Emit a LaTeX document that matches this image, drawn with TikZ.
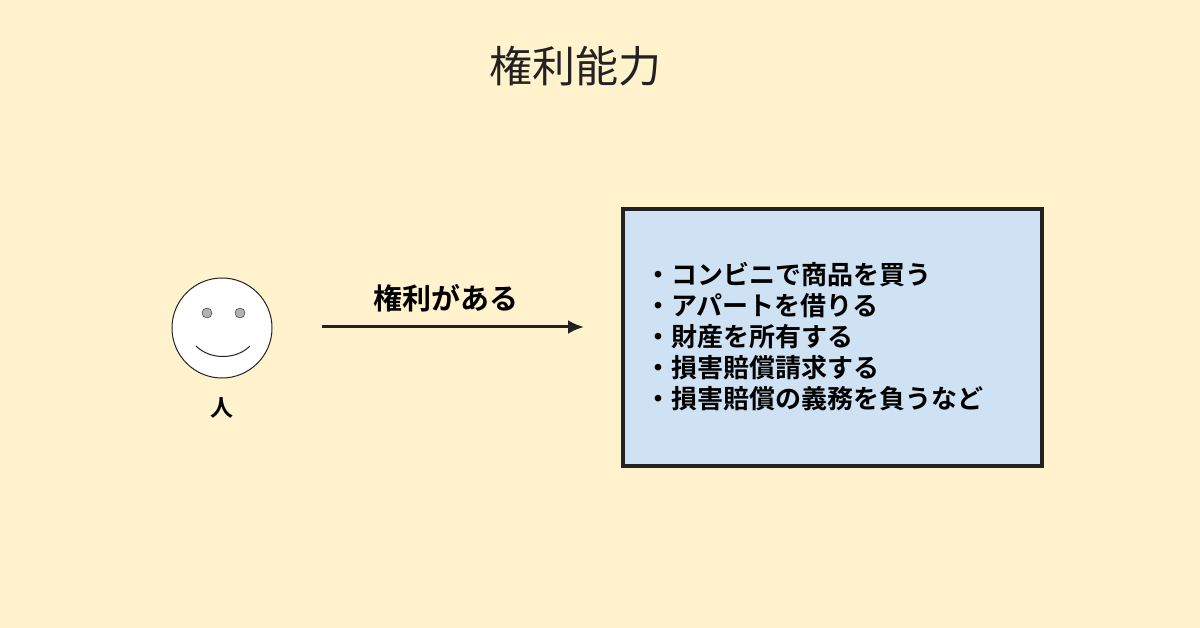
\documentclass[tikz,border=0pt]{standalone}
\usepackage{fontspec}
\usetikzlibrary{arrows.meta}
\newfontfamily\jp{Noto Sans CJK JP}
\newfontfamily\jpb{Noto Sans CJK JP Bold}
\definecolor{bg}{HTML}{FFF2CC}
\definecolor{bx}{HTML}{CFE2F3}
\definecolor{dk}{HTML}{222222}
\begin{document}
\begin{tikzpicture}[x=1pt,y=-1pt]
\useasboundingbox[fill=bg] (0,0) rectangle (1200,628);
\node[font=\jp\fontsize{43}{48}\selectfont,text=dk] (title) at (575,66) {権利能力};
\node[circle,draw=dk,line width=1pt,fill=white,minimum size=100pt] (face) at (222,328) {};
\node[circle,draw=dk,fill=gray!60,minimum size=10pt,inner sep=0] (e1) at (207,313) {};
\node[circle,draw=dk,fill=gray!60,minimum size=10pt,inner sep=0] (e2) at (240,313) {};
\draw[dk,line width=1pt] (196,346) .. controls (210,360) and (236,360) .. (250,346);
\node[font=\jpb\fontsize{23}{26}\selectfont] (hito) at (222,408) {人};
\coordinate (a1) at (322,327);
\coordinate (a2) at (584,327);
\draw[dk,line width=3pt,-{Latex[length=16pt,width=14pt]}] (a1) -- (a2);
\node[font=\jpb\fontsize{29}{32}\selectfont] (lbl) at (446,298) {権利がある};
\node[draw=dk,line width=3.5pt,fill=bx,minimum width=419pt,minimum height=257pt] (box) at (832.5,337.5) {};
\node[anchor=west,align=left,inner sep=0,font=\jpb\fontsize{26}{31}\selectfont] (list) at (645,337) {・コンビニで商品を買う\\・アパートを借りる\\・財産を所有する\\・損害賠償請求する\\・損害賠償の義務を負うなど};
\end{tikzpicture}
\end{document}
